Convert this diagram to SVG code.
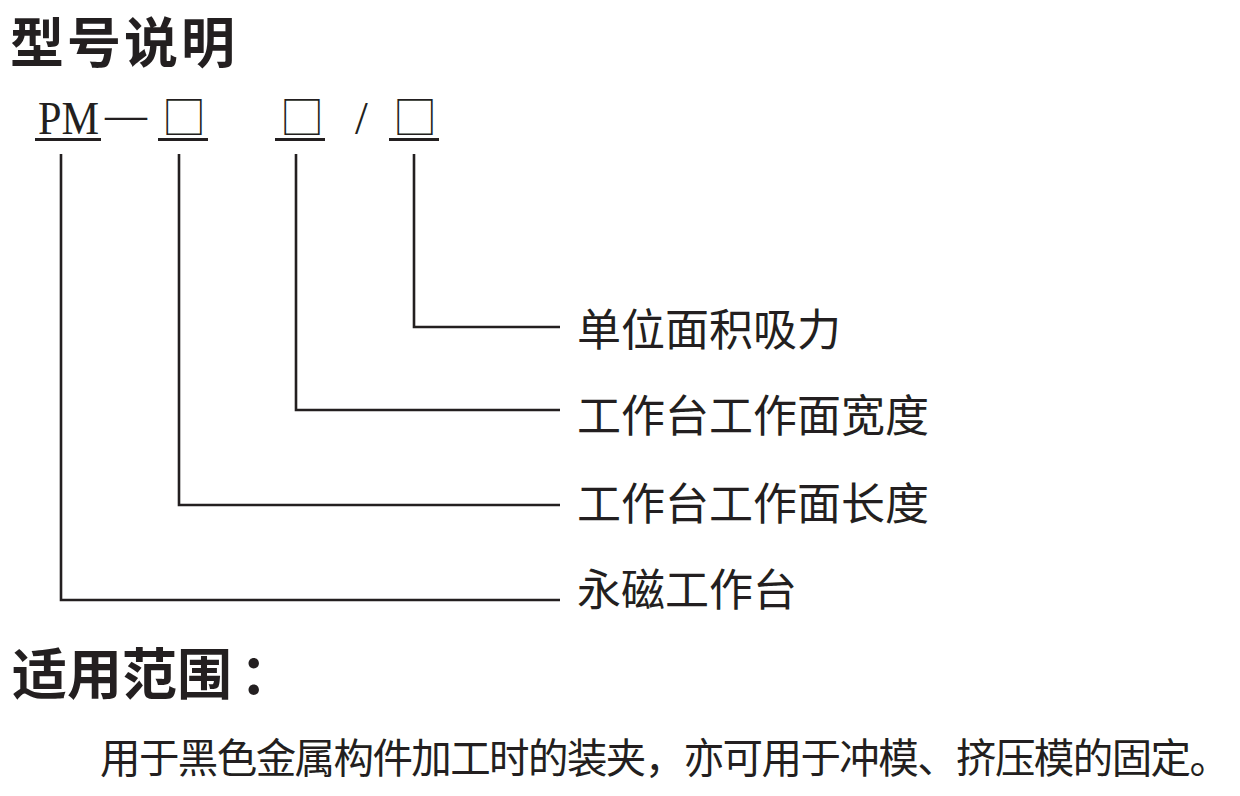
<svg xmlns="http://www.w3.org/2000/svg" width="1240" height="796" viewBox="0 0 1240 796">
<style>
.h{font-family:"Noto Sans CJK SC","Noto Sans",sans-serif;font-weight:700;font-size:55px;fill:#231f20}
.t{font-size:54px}
.lab{font-family:"Noto Sans CJK SC",sans-serif;font-size:44px;fill:#231f20}
.body{font-family:"Noto Sans CJK SC",sans-serif;font-size:40.5px;fill:#231f20}
.pm{font-family:"Liberation Serif","Times New Roman",serif;font-size:46px;fill:#231f20}
.box{font-family:"Noto Sans CJK SC",sans-serif;font-size:44px;fill:#231f20}
.ul{stroke:#231f20;stroke-width:3;fill:none}
.c{stroke:#231f20;stroke-width:2.6;fill:none}
</style>
<rect width="1240" height="796" fill="#fff"/>
<g id="title"><text class="h t" x="10" y="63" textLength="225" lengthAdjust="spacing">型号说明</text></g>
<g id="code">
<text class="pm" x="38" y="134" textLength="61" lengthAdjust="spacingAndGlyphs">PM</text>
<text class="pm" x="105" y="130" textLength="42" lengthAdjust="spacingAndGlyphs">—</text>
<text class="box" x="162" y="134">□</text>
<text class="box" x="280" y="134">□</text>
<text class="pm" x="355" y="134">/</text>
<text class="box" x="393" y="134">□</text>
<line class="ul" x1="35" y1="139.5" x2="101" y2="139.5"/>
<line class="ul" x1="158" y1="139.5" x2="208" y2="139.5"/>
<line class="ul" x1="275" y1="139.5" x2="325" y2="139.5"/>
<line class="ul" x1="389" y1="139.5" x2="439" y2="139.5"/>
</g>
<g id="connectors">
<polyline class="c" points="414,154 414,327 560,327"/>
<polyline class="c" points="296,154 296,410 560,410"/>
<polyline class="c" points="179,154 179,505 560,505"/>
<polyline class="c" points="61,154 61,600 560,600"/>
</g>
<g id="label-force"><text class="lab" x="577" y="346">单位面积吸力</text></g>
<g id="label-width"><text class="lab" x="577" y="432">工作台工作面宽度</text></g>
<g id="label-length"><text class="lab" x="577" y="520">工作台工作面长度</text></g>
<g id="label-table"><text class="lab" x="577" y="606">永磁工作台</text></g>
<g id="scope-title"><text class="h" x="12" y="694">适用范围<tspan dx="8">：</tspan></text></g>
<g id="scope-body"><text class="body" x="100" y="773" textLength="1130" lengthAdjust="spacing">用于黑色金属构件加工时的装夹，亦可用于冲模、挤压模的固定。</text></g>
</svg>
